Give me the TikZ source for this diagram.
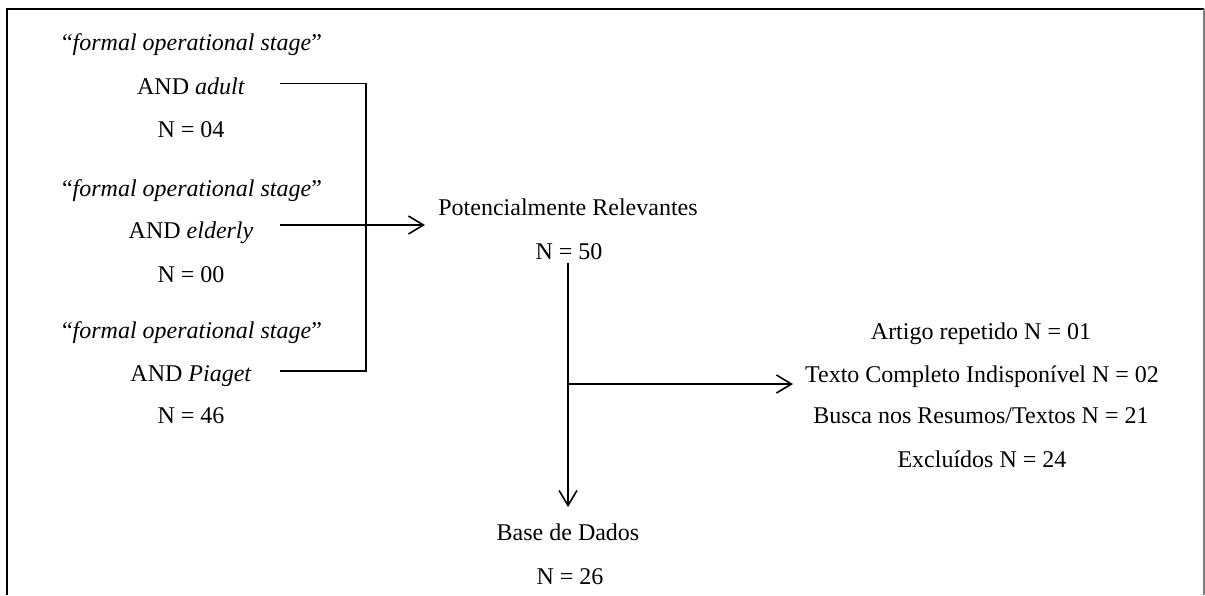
\documentclass[tikz,border=0pt]{standalone}
\usepackage{fontspec}
\setmainfont{Liberation Serif}
\usetikzlibrary{arrows.meta}
\begin{document}
\begin{tikzpicture}[x=1pt,y=-1pt,
  txt/.style={anchor=base, inner sep=0pt, font=\fontsize{24}{28}\selectfont},
  conn/.style={line width=1.6pt},
  arr/.style={conn, -{Straight Barb[length=15pt,width=18pt,line width=1.6pt]}}]
\useasboundingbox (0,0) rectangle (1205,595);
% frame
\draw[line width=2pt] (7,595) -- (7,8.5) -- (1204,8.5);
\draw[gray, line width=1.5pt] (1204,8.5) -- (1204,595);
% left search terms
\node[txt] (q1) at (192,50) {“\textit{formal operational stage}”};
\node[txt] (a1) at (191,94) {AND \textit{adult}};
\node[txt] (n1) at (191,137) {N = 04};
\node[txt] (q2) at (192,196) {“\textit{formal operational stage}”};
\node[txt] (a2) at (191,238) {AND \textit{elderly}};
\node[txt] (n2) at (191,282) {N = 00};
\node[txt] (q3) at (192,338) {“\textit{formal operational stage}”};
\node[txt] (a3) at (191,381) {AND \textit{Piaget}};
\node[txt] (n3) at (191,423) {N = 46};
% middle
\node[txt] (pot) at (568,215) {Potencialmente Relevantes};
\node[txt] (n50) at (569,259) {N = 50};
\node[txt] (base) at (568,540) {Base de Dados};
\node[txt] (n26) at (570,584) {N = 26};
% right
\node[txt] (r1) at (981,339) {Artigo repetido N = 01};
\node[txt] (r2) at (982,382) {Texto Completo Indisponível N = 02};
\node[txt] (r3) at (981,423) {Busca nos Resumos/Textos N = 21};
\node[txt] (r4) at (982,467) {Excluídos N = 24};
% connector coordinates
\coordinate (s1) at (280,83.5);
\coordinate (s2) at (280,225);
\coordinate (s3) at (280,371);
\coordinate (j1) at (366,83.5);
\coordinate (j3) at (366,371);
\coordinate (tip) at (425,225);
\coordinate (v0) at (568,263);
\coordinate (v1) at (568,507);
\coordinate (h0) at (568,384);
\coordinate (h1) at (793,384);
% connectors
\draw[conn] (s1) -- (j1) -- (j3) -- (s3);
\draw[arr] (s2) -- (tip);
\draw[arr] (v0) -- (v1);
\draw[arr] (h0) -- (h1);
\end{tikzpicture}
\end{document}
